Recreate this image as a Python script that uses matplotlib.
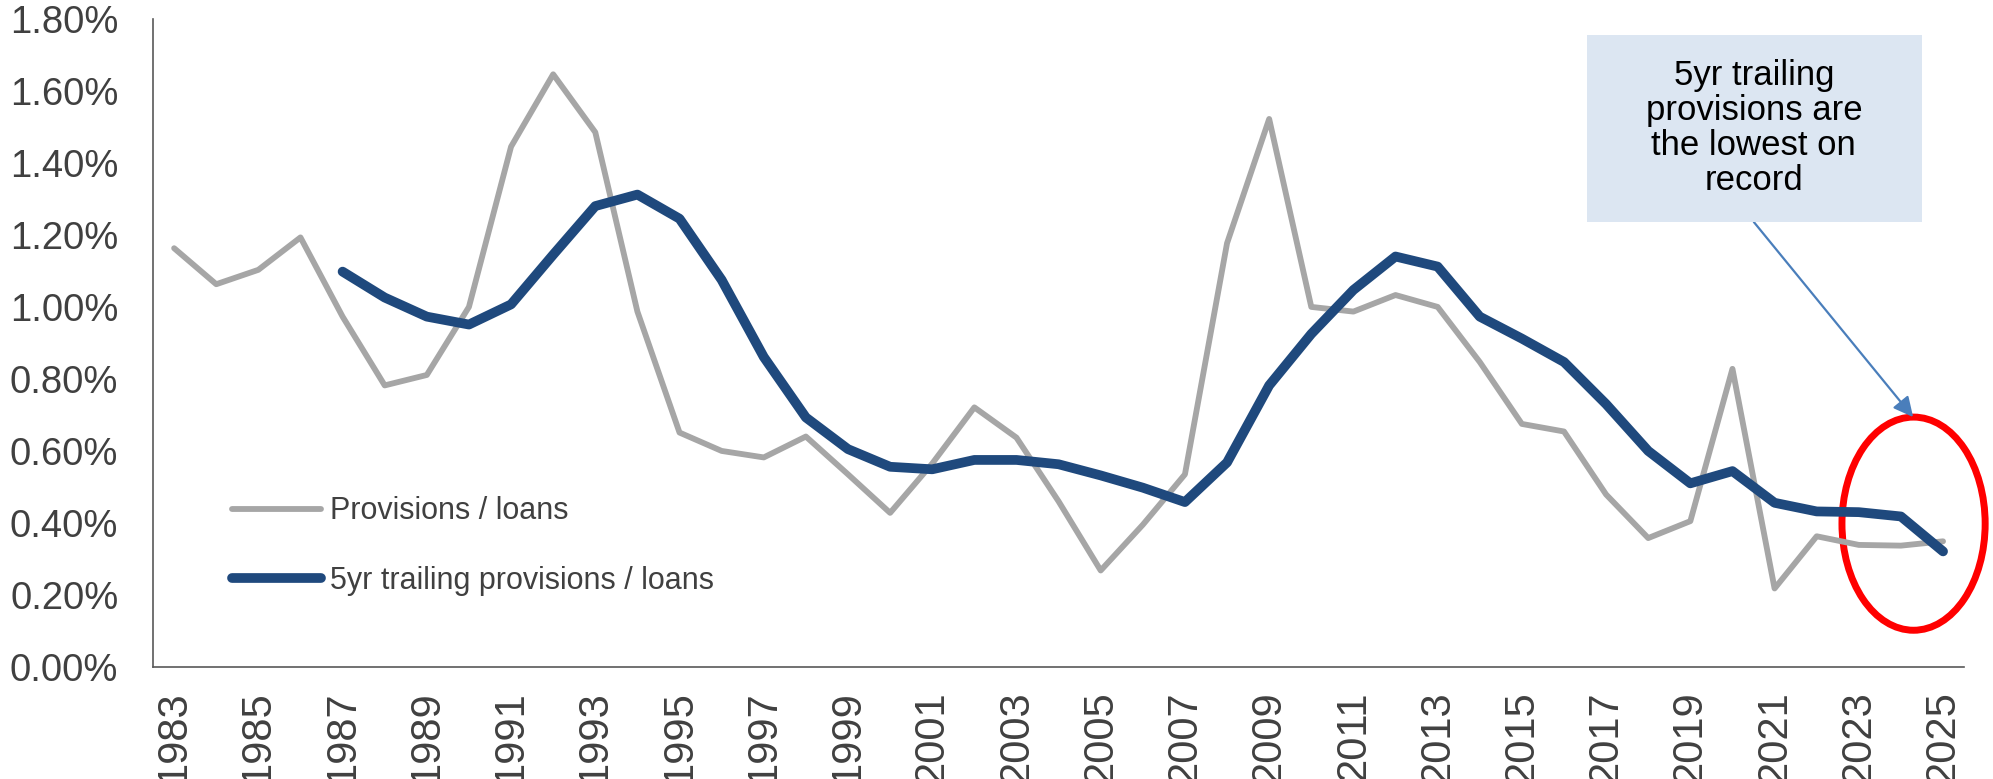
import matplotlib
matplotlib.use('Agg')
import matplotlib.pyplot as plt
from matplotlib.patches import Ellipse, Rectangle
from matplotlib.ticker import FuncFormatter

years = list(range(1983, 2026))
provisions = [1.163, 1.063, 1.103, 1.193, 0.973, 0.782, 0.811, 1.000, 1.445, 1.646,
              1.485, 0.987, 0.651, 0.600, 0.582, 0.640, 0.535, 0.428, 0.565, 0.721,
              0.637, 0.460, 0.268, 0.395, 0.535, 1.177, 1.522, 1.000, 0.987, 1.033,
              1.000, 0.847, 0.675, 0.654, 0.479, 0.358, 0.405, 0.828, 0.218, 0.363,
              0.339, 0.337, 0.349]
trail_years = list(range(1987, 2026))
trailing = [1.098, 1.026, 0.973, 0.951, 1.007, 1.145, 1.280, 1.312, 1.245, 1.075,
            0.861, 0.693, 0.605, 0.556, 0.549, 0.575, 0.575, 0.563, 0.532, 0.498,
            0.458, 0.568, 0.782, 0.925, 1.047, 1.140, 1.112, 0.973, 0.912, 0.847,
            0.730, 0.600, 0.510, 0.544, 0.456, 0.432, 0.430, 0.418, 0.321]

label_prov = 'Provisions / loans'
label_trail = '5yr trailing provisions / loans'
note = '5yr trailing\nprovisions are\nthe lowest on\nrecord'

plt.rcParams['font.family'] = ['Liberation Sans', 'DejaVu Sans']

fig = plt.figure(figsize=(19.93, 7.79), dpi=100)
ax = fig.add_axes([0.0768, 0.1438, 0.9087, 0.832])

ax.plot(years, provisions, color='#A6A6A6', lw=4.2, label=label_prov, solid_capstyle='round')
ax.plot(trail_years, trailing, color='#1F497D', lw=7, label=label_trail, solid_capstyle='round')

ax.set_xlim(1982.5, 2025.5)
ax.set_ylim(0, 1.8)
ax.set_yticks([i * 0.2 for i in range(10)])
ax.yaxis.set_major_formatter(FuncFormatter(lambda v, p: '%.2f%%' % v))
ax.set_xticks(years[::2])
ax.set_xticklabels([str(y) for y in years[::2]], rotation=90)

for s in ['top', 'right']:
    ax.spines[s].set_visible(False)
for s in ['left', 'bottom']:
    ax.spines[s].set_color('#595959')
    ax.spines[s].set_linewidth(1.2)
ax.tick_params(axis='y', length=0, pad=25, labelsize=27.5, labelcolor='#404040')
ax.tick_params(axis='x', length=0, pad=17, labelsize=30, labelcolor='#404040')

leg = ax.legend(loc='center left', bbox_to_anchor=(0.1164, 0.299), bbox_transform=fig.transFigure,
                frameon=False, fontsize=22, handlelength=2.9, handletextpad=0.3,
                labelspacing=1.3, borderpad=0, borderaxespad=0)
for t in leg.get_texts():
    t.set_color('#404040')

# red circle round the last points
ax.add_patch(Ellipse((2024.3, 0.398), 3.4, 0.592, fill=False, edgecolor='#FF0000',
                     lw=5, clip_on=False))

# callout box
fig.patches.append(Rectangle((0.7963, 0.715), 0.1681, 0.240, transform=fig.transFigure,
                             facecolor='#DCE6F2', edgecolor='none', zorder=0))
fig.text(0.880, 0.836, note, ha='center', va='center', fontsize=25, color='black',
         linespacing=1.08)
ax.annotate('', xy=(2024.29, 0.694), xycoords='data', xytext=(0.880, 0.715),
            textcoords='figure fraction',
            arrowprops=dict(arrowstyle='-|>', color='#4A7EBB', lw=1.6,
                            mutation_scale=30, shrinkA=0, shrinkB=0),
            annotation_clip=False)

fig.savefig('out.png', dpi=100)
